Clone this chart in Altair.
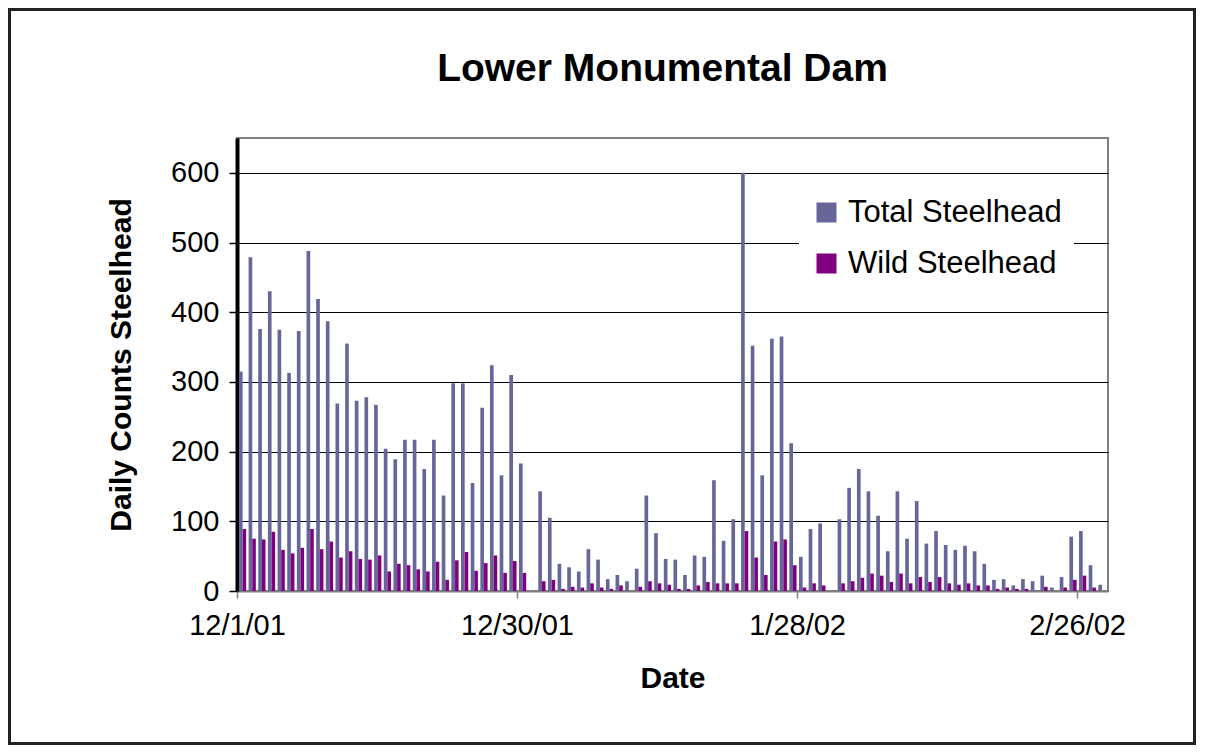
import altair as alt
import pandas as pd

# ---------------- data ----------------
start_date = "2001-12-01"
n_days = 90
dates = pd.date_range(start_date, periods=n_days, freq="D")
date_labels = [f"{d.month}/{d.day}/{d.year % 100:02d}" for d in dates]

total_steelhead = [
    315, 479, 376, 430, 375, 313, 373, 488, 419, 387,
    269, 355, 273, 278, 267, 204, 189, 217, 217, 175,
    217, 137, 298, 298, 155, 263, 324, 166, 310, 183,
    0, 143, 105, 39, 34, 28, 60, 45, 17, 23,
    14, 32, 137, 83, 46, 45, 23, 51, 49, 159,
    72, 103, 600, 352, 166, 362, 365, 212, 49, 89,
    97, 0, 103, 148, 175, 143, 108, 57, 143, 75,
    129, 68, 86, 66, 59, 65, 57, 39, 16, 17,
    8, 17, 14, 22, 5, 20, 78, 86, 37, 9,
]
wild_steelhead = [
    89, 75, 74, 85, 59, 54, 62, 89, 60, 71,
    48, 57, 46, 45, 51, 28, 39, 37, 31, 28,
    42, 16, 44, 56, 29, 40, 51, 26, 43, 26,
    0, 14, 16, 3, 6, 5, 11, 5, 3, 8,
    0, 6, 14, 11, 9, 3, 3, 8, 13, 11,
    11, 11, 86, 48, 23, 71, 74, 37, 5, 11,
    8, 0, 11, 14, 19, 25, 22, 13, 25, 11,
    20, 13, 20, 11, 9, 11, 8, 8, 3, 5,
    3, 3, 0, 6, 0, 5, 16, 22, 5, 0,
]
series_names = ["Total Steelhead", "Wild Steelhead"]
series_colors = ["#666699", "#800080"]
tick_days = [0, 29, 58, 87]
y_ticks = [0, 100, 200, 300, 400, 500, 600]

rows = []
for i in range(n_days):
    rows.append({"day": i, "date": date_labels[i], "series": series_names[0], "count": total_steelhead[i]})
    rows.append({"day": i, "date": date_labels[i], "series": series_names[1], "count": wild_steelhead[i]})
df = pd.DataFrame(rows)

label_expr = " : ".join(f"datum.value == {t} ? '{date_labels[t]}'" for t in tick_days) + " : ''"

FONT = "Liberation Sans"

bars = alt.Chart(df).transform_calculate(
    x0=f"datum.day + (datum.series == '{series_names[0]}' ? 0.2 : 0.58)",
    x1=f"datum.day + (datum.series == '{series_names[0]}' ? 0.58 : 0.95)",
).mark_bar().encode(
    x=alt.X(
        "x0:Q",
        scale=alt.Scale(domain=[0, 90.2], nice=False, zero=False),
        axis=alt.Axis(
            values=tick_days, labelExpr=label_expr, tickSize=7, tickColor="#808080",
            tickWidth=1.5, domainColor="#808080", domainWidth=2, grid=False,
            labelFontSize=29, labelColor="black", labelPadding=13, labelFlush=False,
            labelOverlap=False, titleFontSize=30, titleFontWeight="bold",
            titleColor="black", titlePadding=23,
        ),
        title="Date",
    ),
    x2="x1:Q",
    y=alt.Y(
        "count:Q",
        scale=alt.Scale(domain=[0, 650], nice=False),
        axis=alt.Axis(
            values=y_ticks, tickSize=8, tickColor="black", tickWidth=1.5,
            domainColor="black", domainWidth=4, grid=True, gridColor="black",
            gridWidth=1, labelFontSize=29, labelColor="black", labelPadding=10,
            titleFontSize=30, titleFontWeight="bold", titleColor="black",
            titlePadding=34,
        ),
        title="Daily Counts Steelhead",
    ),
    y2=alt.datum(0),
    color=alt.Color(
        "series:N",
        scale=alt.Scale(domain=series_names, range=series_colors),
        legend=alt.Legend(
            title=None, orient="none", legendX=562, legendY=47, fillColor="white",
            padding=12, symbolType="square", symbolSize=400, symbolStrokeWidth=0,
            labelFontSize=31, labelColor="black", labelOffset=6, rowPadding=19,
            labelLimit=400,
        ),
    ),
)

border = alt.Chart(pd.DataFrame({"k": [0]})).mark_rect(
    filled=False, stroke="#222222", strokeWidth=3
).encode(
    x=alt.value(-227.5), x2=alt.value(957.5), y=alt.value(-128.5), y2=alt.value(605.5)
)

chart = alt.layer(border, bars).properties(
    width=871,
    height=453,
    padding=0,
    title=alt.TitleParams(
        "Lower Monumental Dam", fontSize=39, fontWeight="bold", color="black",
        anchor="middle", dx=-10, offset=-112, baseline="alphabetic",
    ),
).configure(font=FONT).configure_view(stroke="#808080", strokeWidth=2)

chart.save("out.html", embed_options={"renderer": "svg", "actions": False})
